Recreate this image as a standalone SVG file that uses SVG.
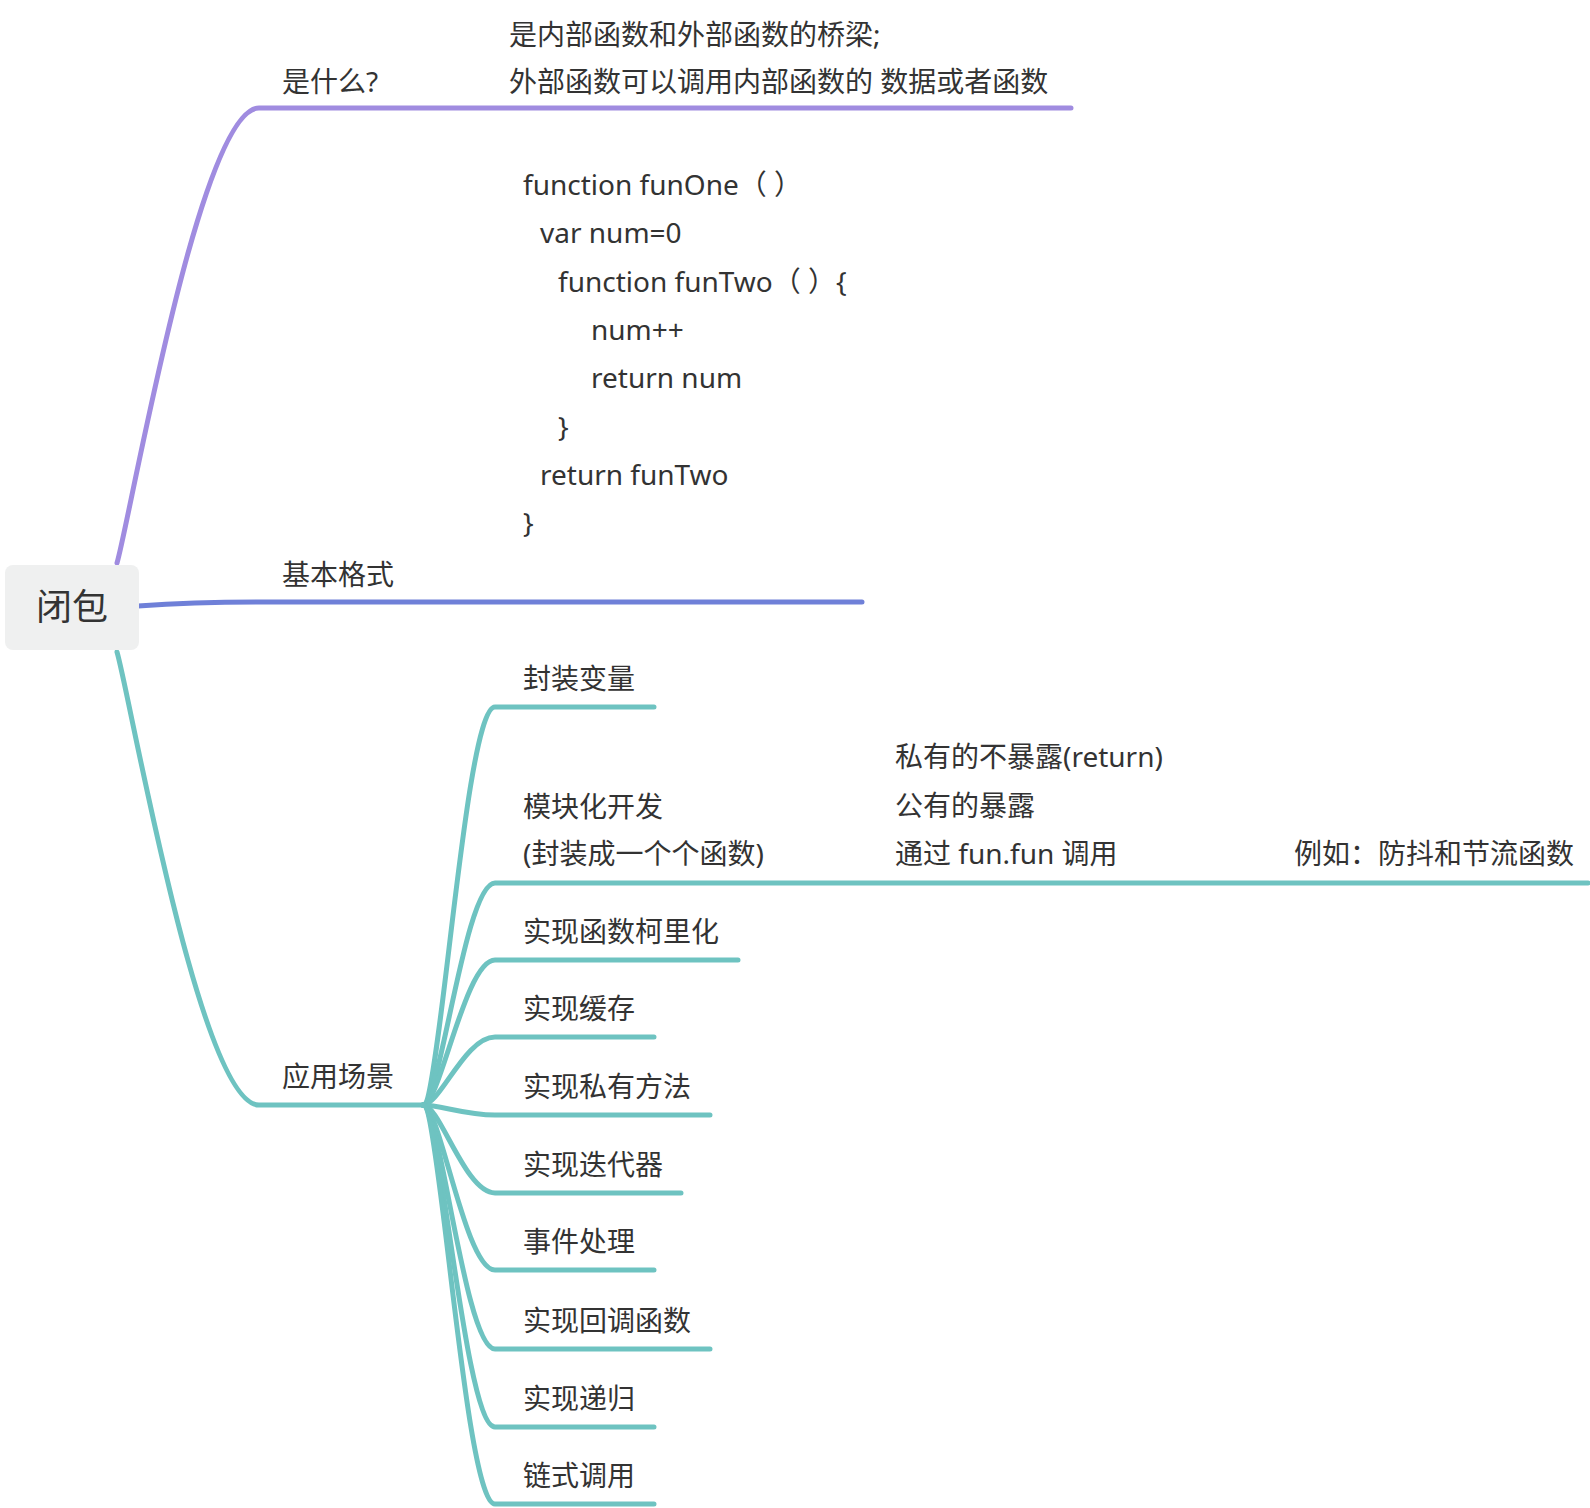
<svg xmlns="http://www.w3.org/2000/svg" width="1590" height="1508" viewBox="0 0 1590 1508">
<style>
text{font-family:"Noto Sans","Noto Sans CJK SC",sans-serif;font-size:28px;fill:#333333}
.root{font-size:36px}
.c{fill:none;stroke-width:5;stroke-linecap:round}
.p{stroke:#a08ce0}
.b{stroke:#6f80d8}
.t{stroke:#6ec3c1}
</style>
<rect width="1590" height="1508" fill="#ffffff"/>
<g id="connectors">
<path class="c p" d="M117 563 C130 520 200 108 259 108 L1071 108"/>
<path class="c b" d="M138 606 C180 603 210 602 259 602 L862 602"/>
<path class="c t" d="M117 652 C130 695 200 1105 259 1105 L423 1105"/>
<path class="c t" d="M423 1105 C440 1105 465 707 495 707 L654 707"/>
<path class="c t" d="M423 1105 C440 1105 465 883 495 883 L1588 883"/>
<path class="c t" d="M423 1105 C440 1105 465 960 495 960 L738 960"/>
<path class="c t" d="M423 1105 C440 1105 465 1037 495 1037 L654 1037"/>
<path class="c t" d="M423 1105 C440 1105 465 1115 495 1115 L710 1115"/>
<path class="c t" d="M423 1105 C440 1105 465 1193 495 1193 L681 1193"/>
<path class="c t" d="M423 1105 C440 1105 465 1270 495 1270 L654 1270"/>
<path class="c t" d="M423 1105 C440 1105 465 1349 495 1349 L710 1349"/>
<path class="c t" d="M423 1105 C440 1105 465 1427 495 1427 L654 1427"/>
<path class="c t" d="M423 1105 C440 1105 465 1504 495 1504 L654 1504"/>
</g>
<g id="root">
<rect x="5" y="565" width="134" height="85" rx="8" fill="#eff0f0"/>
<text class="root" x="72" y="620" text-anchor="middle">闭包</text>
</g>
<g id="what">
<text x="282" y="92">是什么?</text>
</g>
<g id="what-detail">
<text x="509" y="45">是内部函数和外部函数的桥梁;</text>
<text x="509" y="92">外部函数可以调用内部函数的 数据或者函数</text>
</g>
<g id="format">
<text x="282" y="585">基本格式</text>
</g>
<g id="format-code">
<text x="523" y="195">function funOne（ ）</text>
<text x="540" y="243">var num=0</text>
<text x="558" y="292">function funTwo（ ）{</text>
<text x="591" y="340">num++</text>
<text x="591" y="388">return num</text>
<text x="558" y="437">}</text>
<text x="540" y="485">return funTwo</text>
<text x="523" y="533">}</text>
</g>
<g id="scenes">
<text x="282" y="1087">应用场景</text>
</g>
<g id="s1"><text x="523" y="689">封装变量</text></g>
<g id="s2">
<text x="523" y="817">模块化开发</text>
<text x="523" y="864">(封装成一个个函数)</text>
</g>
<g id="s2-detail">
<text x="895" y="767">私有的不暴露(return)</text>
<text x="895" y="816">公有的暴露</text>
<text x="895" y="864">通过 fun.fun 调用</text>
</g>
<g id="s2-example"><text x="1294" y="864">例如：防抖和节流函数</text></g>
<g id="s3"><text x="523" y="942">实现函数柯里化</text></g>
<g id="s4"><text x="523" y="1019">实现缓存</text></g>
<g id="s5"><text x="523" y="1097">实现私有方法</text></g>
<g id="s6"><text x="523" y="1175">实现迭代器</text></g>
<g id="s7"><text x="523" y="1252">事件处理</text></g>
<g id="s8"><text x="523" y="1331">实现回调函数</text></g>
<g id="s9"><text x="523" y="1409">实现递归</text></g>
<g id="s10"><text x="523" y="1486">链式调用</text></g>
</svg>
